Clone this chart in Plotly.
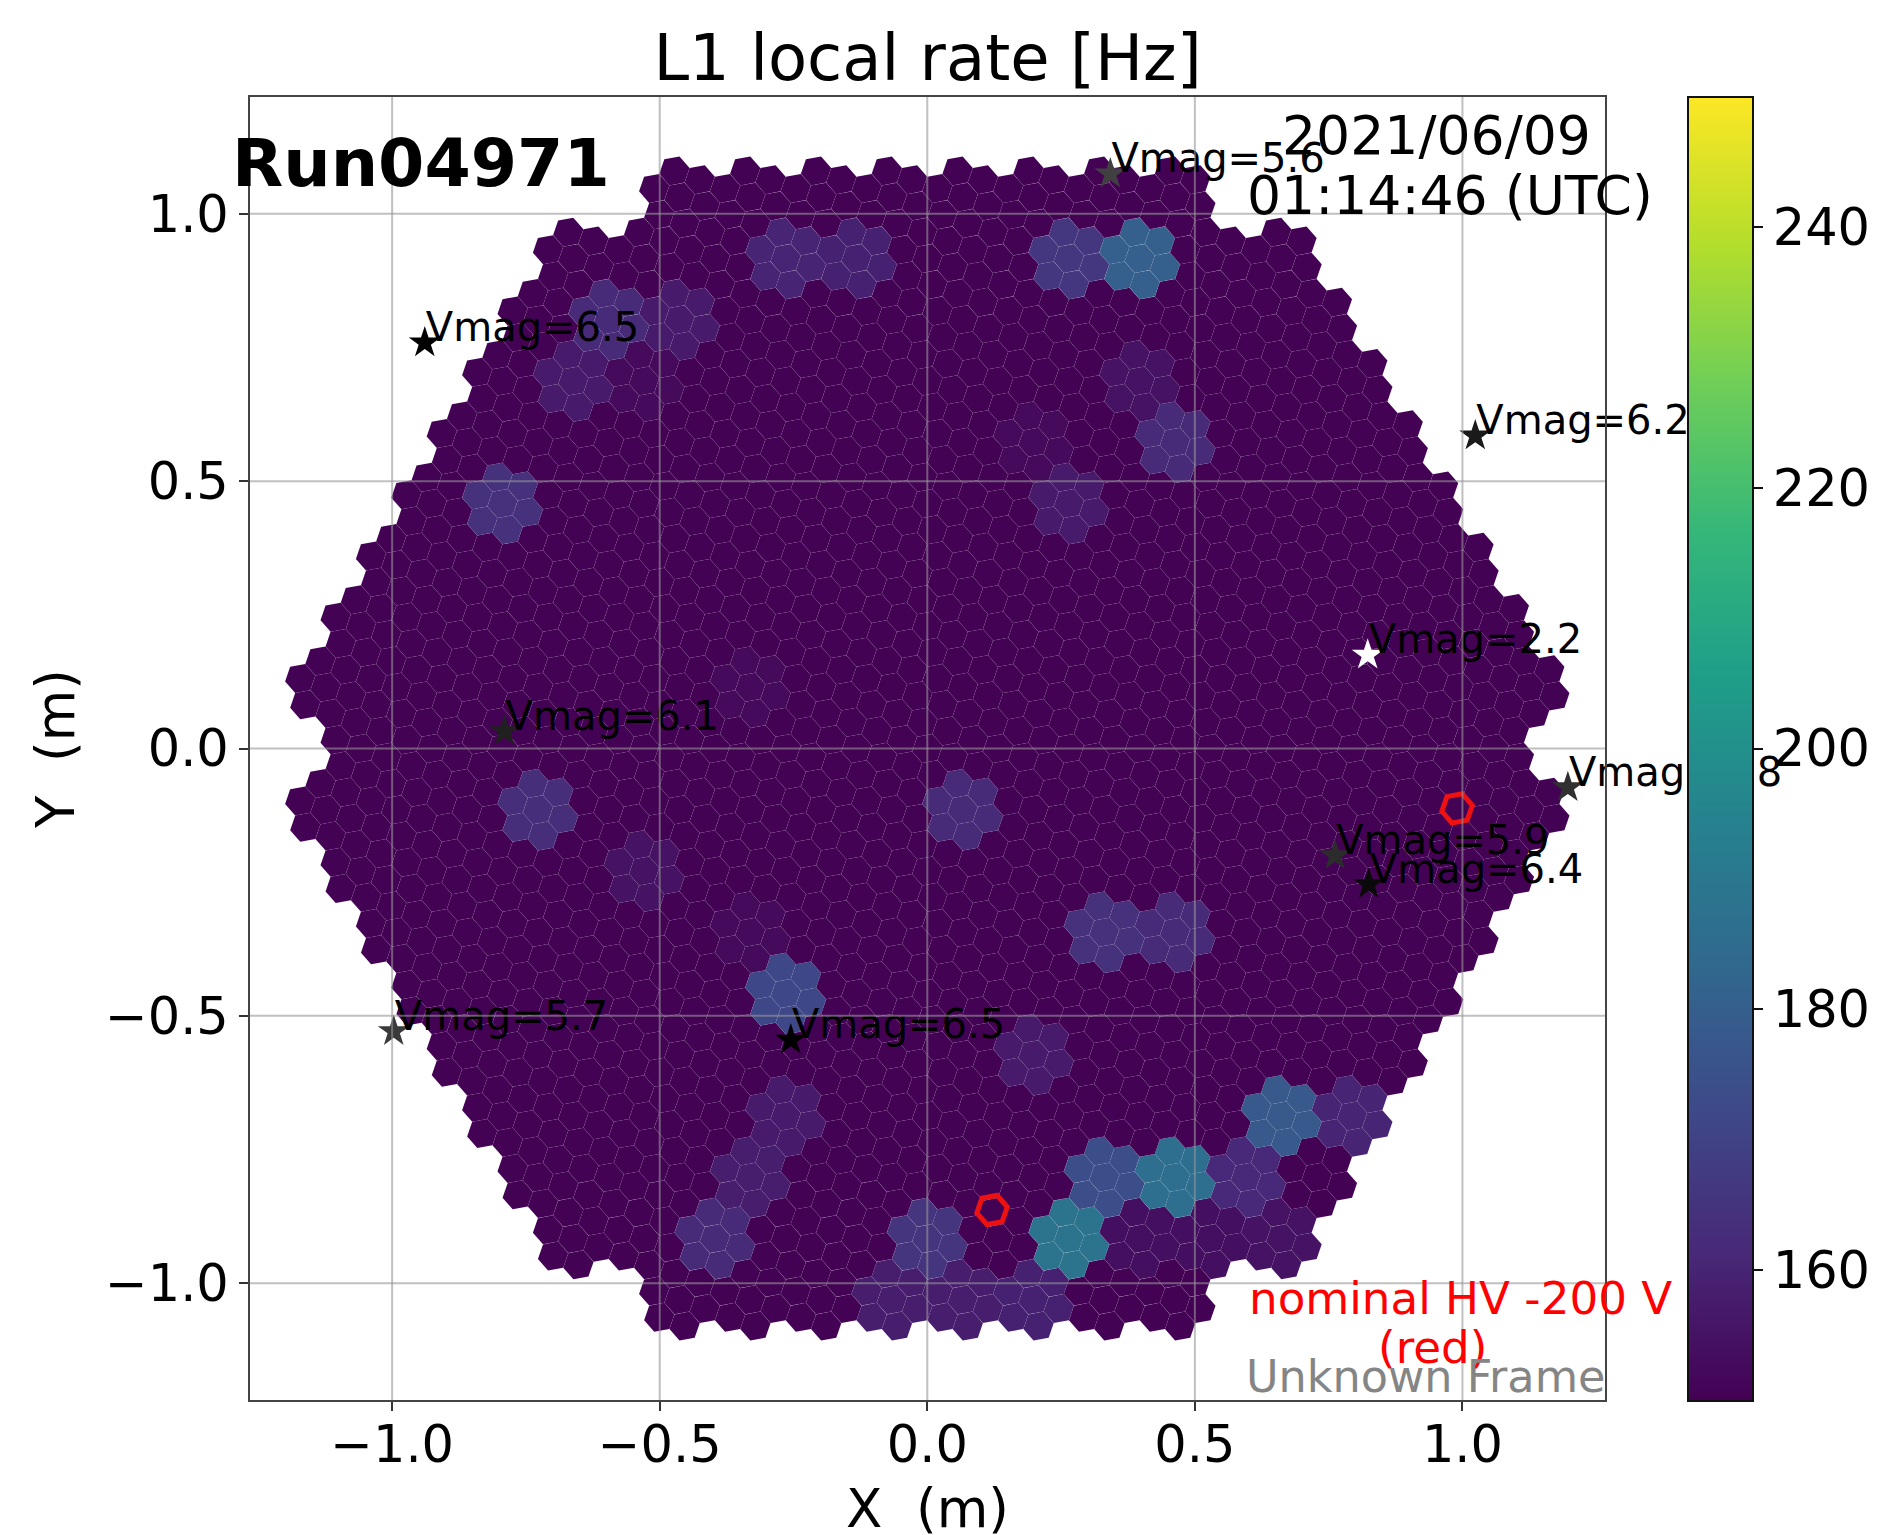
import math
import plotly.graph_objects as go

FONT = "DejaVu Sans"

# --- data ---
TICKS = [-1.0, -0.5, 0.0, 0.5, 1.0]
CBAR_TICKS = [160, 180, 200, 220, 240]
PIXEL_PITCH = 0.05
BASE_RATE = 150.3

# hot modules: doubled column index, row index, rate [Hz]
hot_col = [-4, -2, 4, 6, -9, -7, -10, -8, 6, 7, 3, 4, -12, -5, -11, 1, -8, -5, -4, 5, 7, 3, -4, -5, -6, 0,
           -1, 1, 3, 4, 5, 7, 9, 10, 12, 6, 8, 10]
hot_row = [8, 8, 8, 8, 7, 7, 6, 6, 6, 5, 5, 4, 4, 1, -1, -1, -2, -3, -4, -3, -3, -5, -6, -7, -8, -8,
           -9, -9, -9, -8, -7, -7, -7, -6, -6, -8, -8, -8]
hot_rate = [160, 159, 166, 180, 162, 157, 157, 152.5, 155, 162, 152.5, 157, 164, 152.5, 163, 162, 155, 152.5, 172, 164, 162, 157, 157, 158, 162, 165,
            158, 158, 159, 188, 174, 186, 161, 178, 160, 154, 154, 155]

star_x = [0.342, -0.939, 1.024, 0.823, -0.790, 1.197, 0.762, 0.825, -0.997, -0.255]
star_y = [1.075, 0.759, 0.585, 0.175, 0.032, -0.073, -0.200, -0.254, -0.529, -0.545]
star_mag = [5.6, 6.5, 6.2, 2.2, 6.1, 5.8, 5.9, 6.4, 5.7, 6.5]
star_color = ["#404040", "#000000", "#1a1a1a", "#ffffff", "#202020", "#303030", "#2c2c2c", "#0a0a0a", "#3a3a3a", "#000000"]
LABEL_DROP = 0.016
LABEL_SHIFT = 0.002

red_x = [0.121, 0.990]
red_y = [-0.863, -0.112]

# --- camera geometry: 265 seven-pixel modules on a hexagonal lattice ---
mod_pitch = PIXEL_PITCH * math.sqrt(7)
row_pitch = mod_pitch * math.sqrt(3) / 2
hot = {(c, r): v for c, r, v in zip(hot_col, hot_row, hot_rate)}
corners = {(18, 0), (-18, 0), (9, 9), (-9, 9), (9, -9), (-9, -9)}
TILT = math.radians(-19.1)
offsets = [(0.0, 0.0)] + [
    (PIXEL_PITCH * math.cos(TILT + i * math.pi / 3), PIXEL_PITCH * math.sin(TILT + i * math.pi / 3))
    for i in range(6)
]
px, py, pv = [], [], []
for r in range(-9, 10):
    for c in range(-18, 19):
        if (c + r) % 2 or abs(c) + abs(r) > 18 or (c, r) in corners:
            continue
        for dx, dy in offsets:
            px.append(c * mod_pitch / 2 + dx)
            py.append(r * row_pitch + dy)
            pv.append(hot.get((c, r), BASE_RATE))

# the page body has an 8 px margin, so everything is placed 8 px up and left
PAGE = 8
L, R, T, B = 250, 1605, 96.5, 1400.5

fig = go.Figure()
fig.add_trace(go.Scatter(
    x=px, y=py, mode="markers", hoverinfo="skip", showlegend=False,
    marker=dict(
        symbol="hexagon", size=30.85, angle=19.1, line=dict(width=0),
        color=pv, colorscale="Viridis", cmin=150, cmax=250,
        colorbar=dict(
            x=(1688 - L) / (R - L), xanchor="left", xpad=0, ypad=0, y=0.5, yanchor="middle",
            thicknessmode="pixels", thickness=65, lenmode="pixels", len=B - T,
            outlinewidth=2, outlinecolor="#111111",
            tickmode="array", tickvals=CBAR_TICKS, ticktext=[str(t) for t in CBAR_TICKS],
            ticks="outside", ticklen=9, tickwidth=2, tickcolor="#111111",
            tickfont=dict(family=FONT, size=51, color="black"),
        ),
    ),
))
fig.add_trace(go.Scatter(
    x=red_x, y=red_y, mode="markers", hoverinfo="skip", showlegend=False,
    marker=dict(symbol="hexagon-open", size=31, angle=19.1, color="#ee1111", line=dict(width=5, color="#ee1111")),
))
fig.add_trace(go.Scatter(
    x=star_x, y=star_y, mode="markers", hoverinfo="skip", showlegend=False,
    marker=dict(symbol="star", size=24, color=star_color, line=dict(width=0)),
))
fig.add_trace(go.Scatter(
    x=[v + LABEL_SHIFT for v in star_x], y=[v - LABEL_DROP for v in star_y], mode="text", hoverinfo="skip",
    showlegend=False, cliponaxis=False,
    text=[f"Vmag={m}" for m in star_mag], textposition="top right",
    textfont=dict(family=FONT, size=40, color="black"),
))

shapes = []
for t in TICKS:
    shapes.append(dict(type="line", xref="x", yref="paper", x0=t, x1=t, y0=0, y1=1, layer="above",
                       line=dict(color="rgba(150,150,150,0.6)", width=2)))
    shapes.append(dict(type="line", xref="paper", yref="y", y0=t, y1=t, x0=0, x1=1, layer="above",
                       line=dict(color="rgba(150,150,150,0.6)", width=2)))


def note(text, x, y, size, color="black", anchor="center", bold=False):
    return dict(text=f"<b>{text}</b>" if bold else text, xref="paper", yref="paper", x=(x - L) / (R - L),
                y=(B - y) / (B - T), xanchor=anchor, yanchor="bottom", showarrow=False,
                font=dict(family=FONT, size=size, color=color), borderpad=0)


annotations = [
    note("Run04971", 231, 203, 66.6, anchor="left", bold=True),
    note("2021/06/09", 1436, 168, 53.6),
    note("01:14:46 (UTC)", 1450, 228, 53.6),
    note("nominal HV -200 V", 1460, 1326, 45.2, color="#ff0000"),
    note("(red)", 1432, 1375, 45.2, color="#ff0000"),
    note("Unknown Frame", 1425, 1404, 44.5, color="#858585"),
]

axis = dict(
    showgrid=False, zeroline=False, showline=True, mirror=True, linecolor="#444444", linewidth=2,
    ticks="outside", ticklen=9, tickwidth=2, tickcolor="#333333",
    tickmode="array", tickvals=TICKS, tickformat=".1f",
    tickfont=dict(family=FONT, size=51, color="black"),
)
fig.update_layout(
    width=1893, height=1535, paper_bgcolor="white", plot_bgcolor="white",
    margin=dict(l=L - PAGE, r=1893 - R + PAGE, t=T - PAGE, b=1535 - B + PAGE, autoexpand=False),
    title=dict(text="L1 local rate [Hz]", x=(927.5 - PAGE) / 1893, xanchor="center", y=1 - (80 - PAGE) / 1535, yanchor="bottom",
               font=dict(family=FONT, size=64, color="black")),
    xaxis=dict(axis, range=[-1.2656, 1.2664], ticklabelstandoff=-10,
               title=dict(text="X\u00a0\u00a0(m)", font=dict(family=FONT, size=53, color="black"), standoff=17)),
    yaxis=dict(axis, range=[-1.2185, 1.2185],
               title=dict(text="Y\u00a0\u00a0(m)", font=dict(family=FONT, size=53, color="black"), standoff=13)),
    shapes=shapes, annotations=annotations, showlegend=False,
)
fig.write_html("out.html")
